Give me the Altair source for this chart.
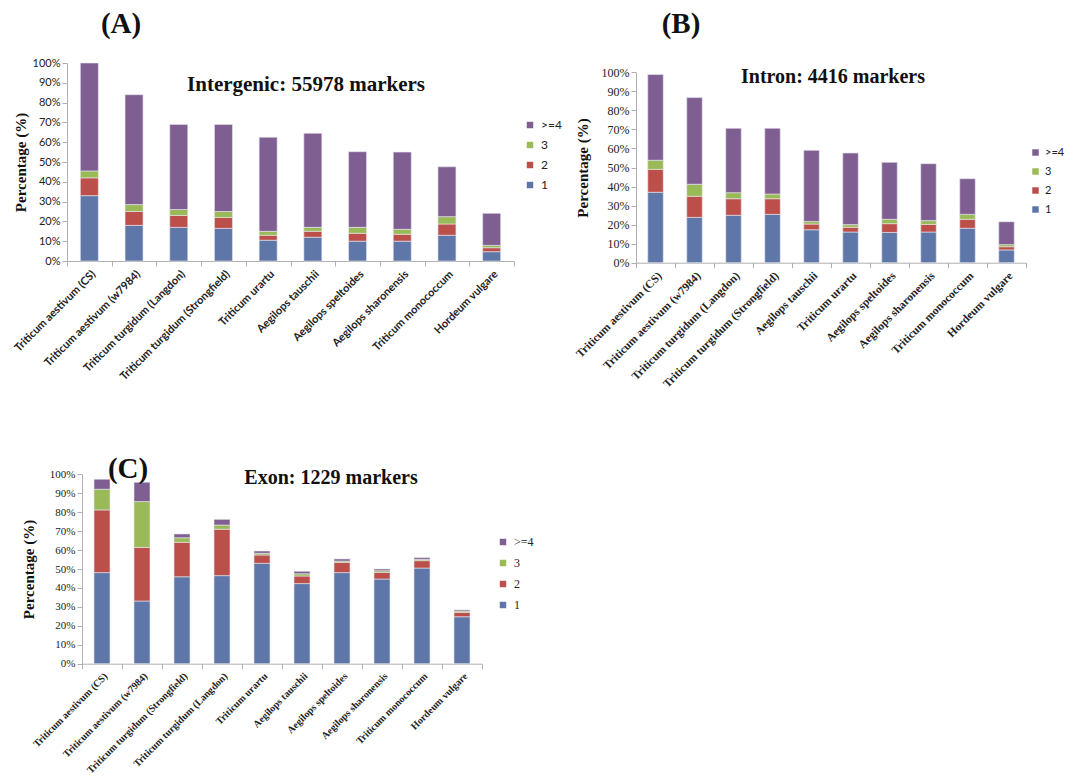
import altair as alt
import pandas as pd

groups = [">=4", "3", "2", "1"]
colors = ["#7f5e92", "#9aba58", "#bd4f4b", "#5f77a8"]

cats_A = ["Triticum aestivum (CS)", "Triticum aestivum (w7984)", "Triticum turgidum (Langdon)",
          "Triticum turgidum (Strongfield)", "Triticum urartu", "Aegilops tauschii",
          "Aegilops speltoides", "Aegilops sharonensis", "Triticum monococcum", "Hordeum vulgare"]
A_1 = [33, 18, 17, 16.5, 10.5, 12, 10, 10, 13, 4.7]
A_2 = [9, 7, 6, 5.5, 2.5, 3, 4, 3.5, 5.7, 2]
A_3 = [3.5, 3.5, 3, 3, 2, 2, 3, 2.5, 3.7, 1.2]
A_4 = [54.5, 55.5, 43, 44, 47.5, 47.5, 38.2, 39, 25.2, 16.2]

cats_B = ["Triticum aestivum (CS)", "Triticum aestivum (w7984)", "Triticum turgidum (Langdon)",
          "Triticum turgidum (Strongfield)", "Aegilops tauschii", "Triticum urartu",
          "Aegilops speltoides", "Aegilops sharonensis", "Triticum monococcum", "Hordeum vulgare"]
B_1 = [37, 23.8, 24.9, 25.4, 17.3, 16.1, 15.9, 16.1, 18.1, 6.7]
B_2 = [12, 11.1, 8.7, 8.2, 3, 2.5, 4.6, 4, 4.7, 1.7]
B_3 = [4.8, 6.3, 3.2, 2.5, 1.4, 1.4, 2.3, 2, 2.6, 1.1]
B_4 = [45, 45.5, 33.8, 34.5, 37.3, 37.6, 29.9, 29.9, 18.7, 12]

cats_C = ["Triticum aestivum (CS)", "Triticum aestivum (w7984)", "Triticum turgidum (Strongfield)",
          "Triticum turgidum (Langdon)", "Triticum urartu", "Aegilops tauschii",
          "Aegilops speltoides", "Aegilops sharonensis", "Triticum monococcum", "Hordeum vulgare"]
C_1 = [48.1, 33.1, 45.9, 46.5, 53, 42.3, 48.1, 44.7, 50.5, 24.8]
C_2 = [33.1, 28.3, 18.2, 24.5, 4.4, 4, 5.4, 3.5, 3.9, 2.3]
C_3 = [10.9, 24.2, 2.4, 2.2, 0.9, 1.2, 0.7, 0.9, 0.7, 0.7]
C_4 = [5.3, 10.2, 2.0, 3.0, 1.2, 1.3, 1.1, 0.9, 0.9, 0.6]

SERIF = "Liberation Serif"
SANS = "Lato"
W, H = 1057, 766


def make_df(cats, s1, s2, s3, s4, key):
    rows = []
    for i, c in enumerate(cats):
        for g, vals, rank in [("1", s1, 1), ("2", s2, 2), ("3", s3, 3), (">=4", s4, 4)]:
            rows.append({"species_" + key: c, "group_" + key: g, "value_" + key: vals[i],
                         "rank": rank})
    return pd.DataFrame(rows)


def bars(key, cats, s1, s2, s3, s4, xr, yr, bar, tickfont, tickfs, xfont, xfs, ytpad, leg):
    df = make_df(cats, s1, s2, s3, s4, key)
    return alt.Chart(df).mark_bar(size=bar, stroke="#e8e8f0", strokeWidth=0.6).encode(
        x=alt.X("species_%s:N" % key, sort=cats, title=None,
                scale=alt.Scale(range=xr, paddingInner=0, paddingOuter=0),
                axis=alt.Axis(orient="bottom", offset=yr[0] - H, labelAngle=-45,
                              labelFont=xfont, labelFontSize=xfs,
                              labelFontWeight="bold", labelColor="#222222",
                              tickBand="extent", tickSize=5, tickColor="#b0b0b0",
                              domainColor="#b0b0b0", labelPadding=2, labelLimit=400)),
        y=alt.Y("value_%s:Q" % key, stack="zero", title="Percentage (%)",
                scale=alt.Scale(domain=[0, 100], nice=False, range=yr),
                axis=alt.Axis(orient="left", offset=-xr[0], values=list(range(0, 101, 10)),
                              labelExpr="datum.value + '%'",
                              labelFont=tickfont, labelFontSize=tickfs, labelColor="#222222",
                              grid=False, tickSize=5, tickColor="#b0b0b0", domainColor="#b0b0b0",
                              titleFont=SERIF, titleFontSize=15, titleFontWeight="bold",
                              titleColor="#111111", titlePadding=ytpad)),
        color=alt.Color("group_%s:N" % key, scale=alt.Scale(domain=groups, range=colors),
                        legend=alt.Legend(title=None, orient="none", legendX=leg[0],
                                          legendY=leg[1], symbolType="square", symbolSize=42,
                                          symbolStrokeWidth=0, labelFont=leg[2],
                                          labelFontSize=leg[4], labelOffset=leg[5],
                                          rowPadding=leg[3], labelColor="#222222")),
        order=alt.Order("rank:Q", sort="ascending"),
    )


one = pd.DataFrame({"k": [0]})


def label(text, x, y, size):
    return alt.Chart(one).mark_text(font=SERIF, fontSize=size, fontWeight="bold",
                                    align="center", baseline="middle", color="#111111").encode(
        x=alt.value(x), y=alt.value(y), text=alt.value(text))


bA = bars("A", cats_A, A_1, A_2, A_3, A_4, [59, 506], [253, 55], 18, SANS, 11, SANS, 11, 4,
          (516, 111, SANS, 8, 12, 5))
bB = bars("B", cats_B, B_1, B_2, B_3, B_4, [628, 1018], [254.7, 64.3], 15.5, SERIF, 12,
          SERIF, 11.5, 11, (1022, 139, SANS, 7, 11, 4))
bC = bars("C", cats_C, C_1, C_2, C_3, C_4, [74, 474], [655.7, 466.3], 16, SERIF, 11,
          SERIF, 10, 13, (489, 528, SERIF, 9, 12, 5))

texts = [
    label("(A)", 113, 16, 29),
    label("(B)", 673, 16, 29),
    label("(C)", 120, 461, 29),
    label("Intergenic: 55978 markers", 298, 77, 21),
    label("Intron: 4416 markers", 825, 69, 20),
    label("Exon: 1229 markers", 323, 470, 20),
]

chart = alt.layer(bA, bB, bC, *texts).resolve_scale(
    x="independent", y="independent", color="independent").resolve_axis(
    x="independent", y="independent").resolve_legend(color="independent").properties(
    width=W, height=H, autosize=alt.AutoSizeParams(type="none"), padding=0).configure(
    background="white").configure_view(stroke=None)

chart.save("out.html", embed_options={"renderer": "svg", "actions": False})
